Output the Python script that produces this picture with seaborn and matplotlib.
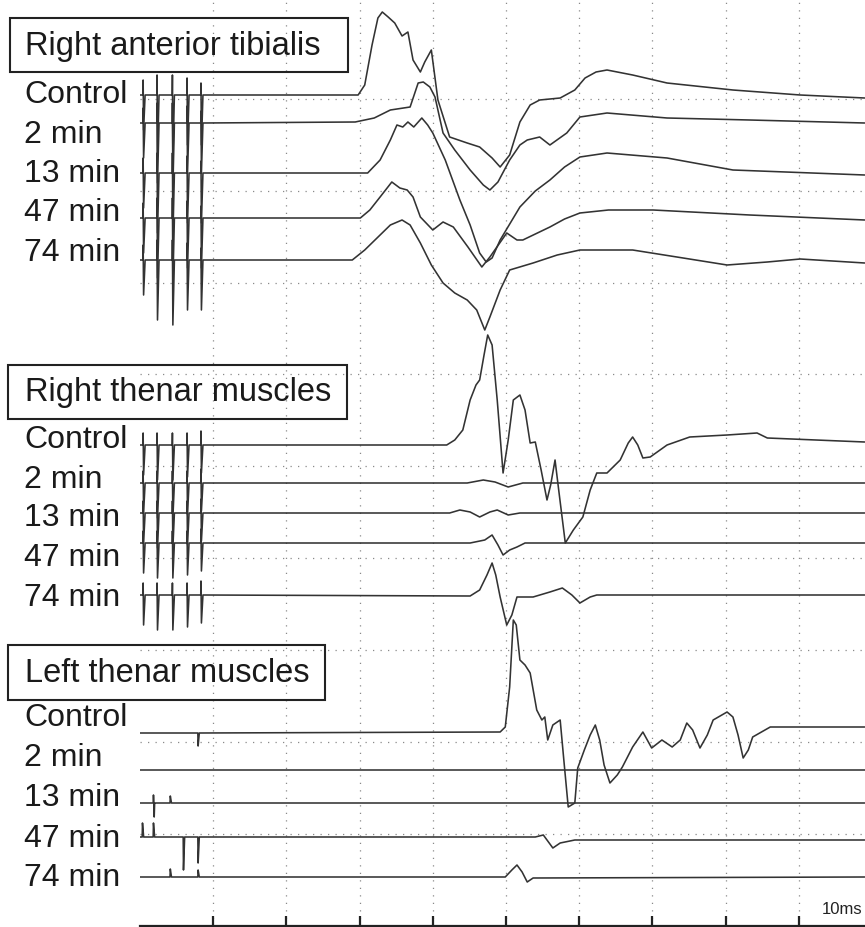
import numpy as np
import pandas as pd
import matplotlib
matplotlib.use("Agg")
import matplotlib.pyplot as plt
import seaborn as sns
from matplotlib.patches import Rectangle

sns.set_theme(style="white")
plt.rcParams['font.family'] = ['Liberation Sans', 'DejaVu Sans']

# ---------------- data (time in ms, amplitude in arbitrary units, up = positive) ----
CONDITIONS = ['Control', '2 min', '13 min', '47 min', '74 min']
MUSCLES = ['Right anterior tibialis', 'Right thenar muscles', 'Left thenar muscles']

STIM_T = [0.4, 2.3, 4.4, 6.4, 8.3]
RAT_STIM_UP = [15, 20, 20, 17, 12]
RAT_STIM_DOWN = [-35, -60, -65, -50, -50]
RTM_STIM_UP = [12, 12, 12, 12, 14]
RTM_STIM_DOWN = [-30, -35, -35, -32, -28]

# Right anterior tibialis
RAT_CTRL_T = [0, 29.8, 30.7, 31.7, 32.5, 33.1, 33.9, 34.8, 35.8, 36.6, 37.3, 38.3, 38.9, 39.8, 40.7,
              42.3, 44.7, 46.4, 48.1, 49.2, 50.5, 51.9, 53.3, 54.6, 57.4, 59.4, 60.8, 62.3, 63.8, 67.3,
              72.0, 81.0, 90.2, 99.0]
RAT_CTRL_V = [0, 0, 10, 50, 77, 83, 78, 72, 59, 63, 35, 23, 33, 45, -5,
              -42, -48, -52, -63, -72, -60, -27, -10, -5, -3, 5, 17, 23, 25, 20,
              12, 5, 0, -3]
RAT_2_T = [0, 29.4, 32.0, 34.2, 36.9, 38.0, 38.7, 39.6, 40.3, 41.4, 43.0, 45.1, 46.9, 47.8, 48.9, 50.5,
           51.9, 52.9, 54.6, 56.0, 58.3, 60.1, 63.8, 72.0, 83.3, 99.0]
RAT_2_V = [0, 1, 5, 13, 16, 40, 41, 36, 26, -10, -27, -47, -62, -67, -59, -37,
           -22, -17, -14, -22, -10, 6, 10, 5, 3, 0]
RAT_13_T = [0, 31.1, 32.8, 34.2, 35.1, 35.9, 36.6, 37.4, 38.5, 39.3, 40.0, 41.7, 43.7, 45.1, 46.4,
            47.3, 48.1, 49.2, 51.9, 54.0, 56.0, 58.0, 60.1, 63.8, 72.0, 81.0, 99.0]
RAT_13_V = [0, 0, 13, 33, 48, 46, 51, 46, 55, 48, 40, 13, -27, -52, -80,
            -89, -85, -67, -34, -18, -7, 6, 16, 20, 15, 3, -2]
RAT_47_T = [0, 30.1, 31.4, 32.8, 34.4, 35.5, 36.5, 37.3, 38.3, 40.0, 41.4, 42.8, 44.8, 46.7, 47.8,
            50.1, 51.5, 52.3, 56.0, 58.0, 60.1, 64.0, 70.1, 83.3, 99.0]
RAT_47_V = [0, 0, 8, 21, 36, 30, 28, 21, 1, -12, -4, -9, -29, -49, -39,
            -15, -22, -22, -9, -1, 5, 8, 8, 3, -2]
RAT_74_T = [0, 29.0, 30.7, 32.8, 34.2, 35.8, 36.9, 38.3, 39.8, 41.4, 43.0, 44.7, 46.0, 47.1, 47.8,
            49.2, 50.5, 53.7, 57.0, 60.1, 67.3, 74.2, 80.2, 85.7, 90.2, 99.0]
RAT_74_V = [0, 0, 10, 25, 35, 40, 35, 17, -5, -23, -33, -40, -50, -70, -57,
            -30, -10, -3, 5, 10, 10, 2, -5, -2, 1, -3]

# Right thenar muscles
RTM_CTRL_T = [0, 41.9, 43.0, 44.1, 45.1, 45.9, 46.4, 47.0, 47.5, 48.1, 48.8, 49.6, 50.3, 51.0, 51.9,
              52.6, 53.3, 54.0, 54.8, 55.6, 56.1, 56.7, 57.2, 58.1, 59.2, 60.5, 61.5, 62.4, 63.8,
              65.6, 66.7, 67.3, 68.0, 68.7, 69.7, 72.0, 75.1, 80.2, 84.3, 85.7, 99.0]
RTM_CTRL_V = [0, 0, 5, 15, 45, 60, 65, 90, 110, 100, 45, -28, 5, 45, 50,
              35, 2, 3, -25, -55, -40, -15, -45, -98, -85, -72, -45, -28, -28,
              -15, 2, 8, 0, -13, -12, 0, 8, 10, 12, 7, 3]
RTM_2_T = [0, 44.7, 46.9, 48.5, 50.3, 52.3, 99.0]
RTM_2_V = [0, 0, 3, 1, -4, 0, 0]
RTM_13_T = [0, 42.3, 43.7, 45.1, 46.4, 47.8, 48.8, 50.3, 51.9, 99.0]
RTM_13_V = [0, 0, 3, 1, -4, 1, 3, -2, 0, 0]
RTM_47_T = [0, 45.1, 47.1, 48.1, 48.9, 49.6, 50.5, 51.5, 52.6, 99.0]
RTM_47_V = [0, 0, 3, 8, -2, -12, -7, -4, 0, 0]
RTM_74_T = [0, 45.1, 46.4, 47.4, 48.1, 48.6, 49.2, 50.1, 50.8, 51.5, 53.7, 56.0, 57.7, 59.0, 60.1,
            61.5, 62.4, 99.0]
RTM_74_V = [0, -1, 5, 20, 32, 20, -2, -30, -20, -2, -2, 3, 7, 0, -8,
            -2, 0, 0]

# Left thenar muscles
LTM_CTRL_T = [0, 49.2, 49.9, 50.5, 51.0, 51.4, 51.9, 52.6, 53.3, 54.2, 54.9, 55.3, 55.7, 56.4, 57.4,
              57.9, 58.5, 59.4, 59.8, 60.7, 61.5, 62.2, 62.8, 63.4, 64.2, 65.2, 65.9, 67.3, 68.7,
              69.9, 71.3, 72.7, 73.8, 74.7, 75.5, 76.5, 77.5, 78.3, 80.2, 81.0, 81.7, 82.4, 83.1,
              83.7, 86.1, 89.8, 99.0]
LTM_CTRL_V = [0, 1, 6, 46, 113, 108, 73, 68, 60, 23, 13, 16, -7, 8, 13,
              -27, -74, -70, -35, -17, -2, 8, -7, -32, -50, -42, -34, -14, 1,
              -15, -7, -14, -7, 10, 3, -15, -2, 13, 21, 16, -2, -25, -17,
              -4, 6, 6, 6]
LTM_2_T = [0, 99.0]
LTM_2_V = [0, 0]
LTM_13_T = [0, 99.0]
LTM_13_V = [0, 0]
LTM_47_T = [0, 54.0, 55.1, 56.4, 57.4, 59.4, 99.0]
LTM_47_V = [0, 0, 2, -11, -6, -3, -3]
LTM_74_T = [0, 49.9, 50.8, 51.5, 52.2, 52.9, 53.7, 99.0]
LTM_74_V = [0, 0, 7, 12, 5, -5, -1, 0]

# irregular artefacts in left thenar traces (time ms, amplitude)
LTM_ART_T = [[7.9], [], [1.8, 1.9, 4.1], [0.3, 1.8, 5.9, 7.9], [4.1, 7.9]]
LTM_ART_V = [[-13], [], [8, -14, 7], [14, 14, -33, -26], [8, 7]]

# ---------------- layout (pixel rows of trace baselines / labels) -------------------
W, H = 865, 927
RAT_ROWS = [95, 123, 173, 218, 260]
RTM_ROWS = [445, 483, 513, 543, 595]
LTM_ROWS = [733, 770, 803, 837, 877]
LABEL_ROWS = [[95, 135, 174, 213, 253], [440, 480, 518, 558, 598], [718, 758, 798, 839, 878]]
TITLE_BOXES = [(10, 18, 348, 72), (8, 365, 347, 419), (8, 645, 325, 700)]
GRID_ROWS = [99, 191, 283, 374, 466, 558, 650, 742, 834]


def spike_pts(ts, a):
    return [(ts, 0), (ts + 0.04, a), (ts + 0.2, 0)]


def stim_pts(ts, up, down):
    return [(ts, 0), (ts + 0.03, up), (ts + 0.09, down), (ts + 0.3, 0)]


rows = []
groups = [
    (list(zip([RAT_CTRL_T, RAT_2_T, RAT_13_T, RAT_47_T, RAT_74_T],
              [RAT_CTRL_V, RAT_2_V, RAT_13_V, RAT_47_V, RAT_74_V])), RAT_ROWS, (RAT_STIM_UP, RAT_STIM_DOWN), None),
    (list(zip([RTM_CTRL_T, RTM_2_T, RTM_13_T, RTM_47_T, RTM_74_T],
              [RTM_CTRL_V, RTM_2_V, RTM_13_V, RTM_47_V, RTM_74_V])), RTM_ROWS, (RTM_STIM_UP, RTM_STIM_DOWN), None),
    (list(zip([LTM_CTRL_T, LTM_2_T, LTM_13_T, LTM_47_T, LTM_74_T],
              [LTM_CTRL_V, LTM_2_V, LTM_13_V, LTM_47_V, LTM_74_V])), LTM_ROWS, None, (LTM_ART_T, LTM_ART_V)),
]
for gi, (traces, base_rows, stim, art) in enumerate(groups):
    for ci, ((T, V), r) in enumerate(zip(traces, base_rows)):
        pts = list(zip(T, V))
        if stim is not None:
            for ts, u, d in zip(STIM_T, stim[0], stim[1]):
                pts += stim_pts(ts, u, d)
        if art is not None:
            for ts, a in zip(art[0][ci], art[1][ci]):
                pts += spike_pts(ts, a)
        pts.sort(key=lambda p: p[0])
        for t, v in pts:
            rows.append({'t': t, 'y': r - v, 'trace': f'{MUSCLES[gi]} | {CONDITIONS[ci]}'})
df = pd.DataFrame(rows)

# ---------------- figure -----------------------------------------------------------
fig = plt.figure(figsize=(W / 100, H / 100), dpi=100)
x0 = 140
px_per_ms = 7.32
ax = fig.add_axes([x0 / W, 1 / H, (W - x0) / W, (H - 1) / H])
ax.set_xlim(0, (W - x0) / px_per_ms)
ax.set_ylim(H - 1, 0)

ax.set_xticks(np.arange(10, 100, 10))
ax.set_yticks(GRID_ROWS)
ax.grid(True, color='#8a8a8a', linestyle=(0, (1, 5)), linewidth=0.9)
ax.tick_params(axis='x', direction='in', length=7, width=1.6, colors='#222222', labelbottom=False, bottom=True)
ax.tick_params(axis='y', length=0, labelleft=False)
for s in ['top', 'right', 'left']:
    ax.spines[s].set_visible(False)
ax.spines['bottom'].set_color('#222222')
ax.spines['bottom'].set_linewidth(1.6)

sns.lineplot(data=df, x='t', y='y', units='trace', estimator=None, sort=False,
             color='#333333', linewidth=1.15, ax=ax, legend=False)
ax.set_xlabel('')
ax.set_ylabel('')

# titles with boxes and condition labels
for gi, (x1, y1, x2, y2) in enumerate(TITLE_BOXES):
    fig.patches.append(Rectangle((x1 / W, 1 - y2 / H), (x2 - x1) / W, (y2 - y1) / H,
                                 transform=fig.transFigure, fill=False,
                                 edgecolor='#222222', linewidth=1.5))
    fig.text(25 / W, 1 - ((y1 + y2) / 2 + 1) / H, MUSCLES[gi], fontsize=23.5,
             color='#1a1a1a', va='center', ha='left')
    for ci, lr in enumerate(LABEL_ROWS[gi]):
        fig.text(24 / W, 1 - lr / H, CONDITIONS[ci], fontsize=23, color='#1a1a1a',
                 va='center', ha='left')

fig.text(822 / W, 1 - 909 / H, '10ms', fontsize=12, color='#222222', va='center', ha='left')

fig.savefig('out.png', dpi=100)
